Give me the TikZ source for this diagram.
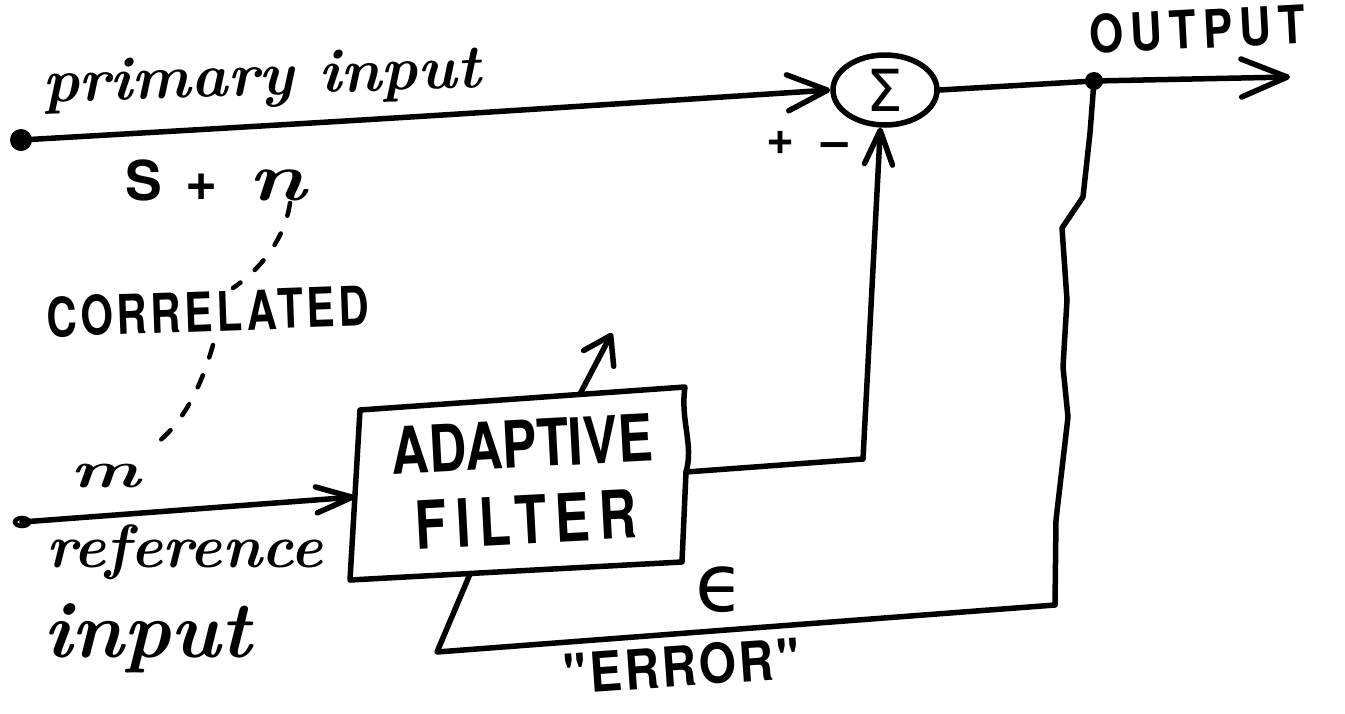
\documentclass[tikz,border=0pt]{standalone}
\usepackage{graphicx}
\usepackage{fontspec}
\newfontfamily\capsf{TeX Gyre Heros}
\newfontfamily\dejav{DejaVu Sans}
\usetikzlibrary{arrows.meta,shapes.geometric}
\begin{document}
\begin{tikzpicture}[x=1pt,y=-1pt,
  wire/.style={line width=5.5pt,line cap=round,line join=round},
  arr/.style 2 args={wire,-{Straight Barb[length=#1,width=#2,round]}},
  dsh/.style={line width=4.5pt,line cap=round,dash pattern=on 13pt off 19pt},
  caps/.style 2 args={font=\capsf\bfseries\fontsize{#1}{#1}\selectfont\addfontfeatures{LetterSpace=#2}},
  hand/.style={font=\bfseries\itshape\fontsize{#1}{#1}\selectfont},
  lbl/.style={inner sep=0pt}
]
\useasboundingbox (0,0) rectangle (1345,713);

% labels
\node[hand=62,lbl,anchor=base,rotate=2] (pri) at (262,95) {primary input};
\node[caps={44}{16},lbl,anchor=base west,rotate=3] (outl) at (1090,54) {\scalebox{1}[1.2]{OUTPUT}};
\node[lbl,anchor=base west] (spn) at (125,200)
  {{\capsf\bfseries\fontsize{55}{55}\selectfont S\hspace{24pt}+\hspace{30pt}}{\bfseries\itshape\fontsize{68}{68}\selectfont\scalebox{1.3}[1]{n}}};
\node[caps={42}{9},lbl,anchor=base west,rotate=2] (corr) at (47,337) {\scalebox{1}[1.3]{CORRELATED}};
\node[hand=74,lbl,anchor=base west] (mlab) at (70,487) {\scalebox{1}[0.7]{m}};
\node[hand=61,lbl,anchor=base west] (refl) at (46,567) {reference};
\node[hand=80,lbl,anchor=base west] (inl) at (43,657) {input};
\node[font=\capsf\bfseries\fontsize{48}{48}\selectfont,lbl] (plus) at (781,143) {+};
\node[font=\capsf\bfseries\fontsize{48}{48}\selectfont,lbl] (minus) at (835,150) {–};
\node[font=\dejav\fontsize{80}{80}\selectfont,lbl] (eps) at (720,590) {ϵ};
\node[caps={48}{6},lbl,rotate=4] (err) at (682,666) {\scalebox{1}[1.15]{"ERROR"}};

% summing junction
\node[ellipse,draw,wire,minimum width=104pt,minimum height=70pt,inner sep=0pt] (sum) at (885,90)
  {\dejav\fontsize{58}{58}\selectfont Σ};

% adaptive filter box
\coordinate (b1) at (360,410);
\coordinate (b2) at (685,387);
\coordinate (b3) at (682,562);
\coordinate (b4) at (350,580);
\coordinate (bout) at (686,472);
\coordinate (bin) at (355,497);
\coordinate (btop) at (580,394);
\coordinate (bbot) at (470,574);
\draw[wire] (b1) -- (b2) .. controls (680,420) and (694,445) .. (bout) -- (b3) -- (b4) -- cycle;
\node[font=\bfseries\fontsize{52}{76}\selectfont,align=center,rotate=3,lbl] (filt) at (524,482)
  {\scalebox{1}[1.25]{\capsf\bfseries ADAPTIVE}\\\scalebox{1}[1.28]{\capsf\bfseries\addfontfeatures{LetterSpace=17}FILTER}};

% terminals
\coordinate (pdot) at (21,140);
\coordinate (rdot) at (22,522);
\coordinate (odot) at (1094,81);
\coordinate (otip) at (1290,77);
\coordinate (atip) at (612,333);
\fill (pdot) circle[radius=11pt];
\draw[line width=4.5pt] (rdot) ellipse[x radius=7pt,y radius=4pt];
\fill (odot) circle[radius=9pt];

% connectors
\draw[arr={40pt}{36pt}] (pdot) .. controls (400,118) .. (sum.west);
\draw[wire] (sum.east) -- (odot);
\draw[arr={46pt}{38pt}] (odot) -- (otip);
\draw[arr={36pt}{26pt}] (rdot) -- (bin);
\draw[arr={34pt}{28pt}] (bout) -- (863,459) -- (sum.-97);
\draw[arr={26pt}{34pt}] (btop) -- (atip);
\draw[wire] (odot) -- (1090,133) -- (1083,197) -- (1062,228) -- (1067,300)
  -- (1063,367) -- (1068,417) -- (1056,520) -- (1055,605) -- (437,652) -- (bbot);

% correlation (dashed)
\coordinate (d1) at (290,203);
\coordinate (d2) at (233,288);
\coordinate (d3) at (213,345);
\coordinate (d4) at (150,448);
\draw[dsh] (d1) .. controls (285,238) and (262,268) .. (d2);
\draw[dsh] (d3) .. controls (203,380) and (185,425) .. (d4);
\end{tikzpicture}
\end{document}
